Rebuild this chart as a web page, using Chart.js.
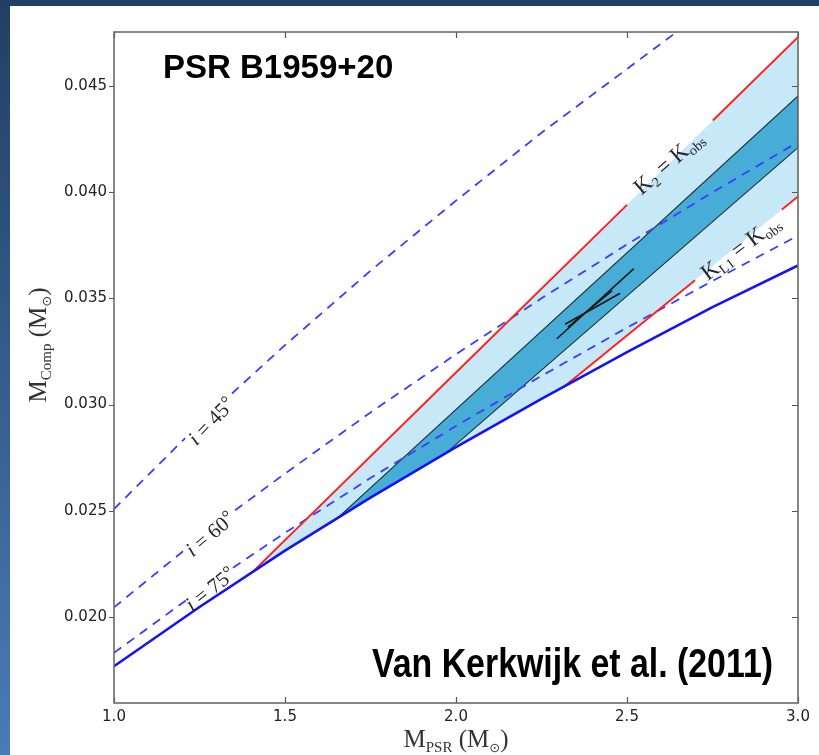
<!DOCTYPE html>
<html><head><meta charset="utf-8">
<script src="https://cdn.jsdelivr.net/npm/chart.js@4.4.0/dist/chart.umd.min.js"></script>
<style>html,body{margin:0;padding:0;background:#fff;}canvas{display:block;}</style>
</head><body>
<canvas id="c" width="819" height="755"></canvas>
<script>
// ---- axes ----
const X_TICKS = [1.0, 1.5, 2.0, 2.5, 3.0];
const Y_TICKS = [0.020, 0.025, 0.030, 0.035, 0.040, 0.045];
const X_RANGE = [1.0, 3.0];
const Y_RANGE = [0.01595, 0.04754];

// ---- inclination curves (M_PSR -> M_Comp) ----
const inc90X = [1.0, 1.25, 1.5, 1.75, 2.0, 2.25, 2.5, 2.75, 3.0];
const inc90Y = [0.01768, 0.02047, 0.02312, 0.02562, 0.02800, 0.03027, 0.03247, 0.03459, 0.03655];
const inc75X = [1.0, 1.21, 1.28, 1.348, 1.5, 1.75, 2.0, 2.25, 2.5, 2.75, 3.0];
const inc75Y = [0.01831, 0.02078, null, 0.02232, 0.02396, 0.02654, 0.02899, 0.03135, 0.03362, 0.03582, 0.03795];
const inc60X = [1.0, 1.21, 1.28, 1.354, 1.5, 1.75, 2.0, 2.25, 2.5, 2.75, 3.0];
const inc60Y = [0.02045, 0.02320, null, 0.02502, 0.02675, 0.02963, 0.03237, 0.03500, 0.03754, 0.03999, 0.04236];
const inc45X = [1.0, 1.208, 1.28, 1.345, 1.5, 1.75, 2.0, 2.25, 2.5, 2.75];
const inc45Y = [0.02508, 0.02842, null, 0.03052, 0.03280, 0.03630, 0.03960, 0.04280, 0.04580, 0.04880];

// ---- K constraints (red) ----
const k2X = [1.404, 2.0, 2.5, 2.62, 2.751, 3.0];
const k2Y = [0.0221, 0.03151, 0.0394, null, 0.04337, 0.0473];
const kL1X = [2.313, 2.5, 2.699, 2.82, 2.953, 3.0];
const kL1Y = [0.0308, 0.03325, 0.03585, null, 0.03918, 0.0398];

// ---- allowed regions ----
const lightX = [1.404, 3.0, 3.0, 2.313, 2.25, 2.0, 1.75, 1.5, 1.404];
const lightY = [0.0221, 0.0473, 0.0398, 0.0308, 0.03027, 0.0280, 0.02562, 0.02312, 0.0221];
const darkX = [1.655, 3.0, 3.0, 1.974, 1.75, 1.655];
const darkY = [0.02468, 0.04453, 0.0421, 0.02776, 0.02562, 0.02468];

// ---- central marker ----
const crossAX = [2.295, 2.52];  const crossAY = [0.0331, 0.0364];
const crossBX = [2.319, 2.48];  const crossBY = [0.03378, 0.03524];
const crossCX = [2.327, 2.456]; const crossCY = [0.03365, 0.03535];

// ---- text ----
const TITLE = 'PSR B1959+20';
const CREDIT = 'Van Kerkwijk et al. (2011)';
const INC_LABELS = [
  {deg: '45', x: 1.284, y: 0.02923, rot: -46},
  {deg: '60', x: 1.281, y: 0.02391, rot: -40},
  {deg: '75', x: 1.281, y: 0.02132, rot: -38}
];

const pts = (xs, ys) => xs.map((x, i) => ({x: x, y: ys[i]}));
const SERIF = '"Liberation Serif", "DejaVu Serif", serif';

const lineDS = (xs, ys, color, width, dash) => ({
  data: pts(xs, ys), borderColor: color, borderWidth: width,
  borderDash: dash || [], fill: false, spanGaps: false, pointRadius: 0
});

const datasets = [
  lineDS(crossAX, crossAY, '#151515', 1.5),
  lineDS(crossBX, crossBY, '#151515', 1.5),
  lineDS(crossCX, crossCY, '#151515', 1.5),
  lineDS(inc90X, inc90Y, '#1414f0', 2.6),
  lineDS(k2X, k2Y, '#ff2222', 2),
  lineDS(kL1X, kL1Y, '#ff2222', 2),
  lineDS(inc45X, inc45Y, '#3c3cff', 1.8, [9, 7]),
  lineDS(inc60X, inc60Y, '#3c3cff', 1.8, [9, 7]),
  lineDS(inc75X, inc75Y, '#3c3cff', 1.8, [9, 7]),
  {data: pts(darkX, darkY), fill: 'shape', backgroundColor: '#48add6', borderColor: '#1c2a30', borderWidth: 1.1, pointRadius: 0},
  {data: pts(lightX, lightY), fill: 'shape', backgroundColor: '#c7e8f6', borderWidth: 0, borderColor: 'rgba(0,0,0,0)', pointRadius: 0}
];

function drawParts(ctx, parts, cx, cy, angleDeg) {
  ctx.save();
  ctx.translate(cx, cy);
  ctx.rotate(angleDeg * Math.PI / 180);
  let total = 0;
  const w = parts.map(p => { ctx.font = p.font; const m = ctx.measureText(p.t).width; total += m; return m; });
  let x = -total / 2;
  ctx.textBaseline = 'alphabetic';
  ctx.textAlign = 'left';
  parts.forEach((p, i) => { ctx.font = p.font; ctx.fillText(p.t, x, p.dy); x += w[i]; });
  ctx.restore();
}

const bgPlugin = {
  id: 'bg',
  beforeDraw(chart) {
    const c = chart.ctx, W = chart.width, H = chart.height;
    c.save();
    c.fillStyle = '#ffffff'; c.fillRect(0, 0, W, H);
    c.fillStyle = '#213f63'; c.fillRect(0, 0, W, 6);
    const g = c.createLinearGradient(0, 0, 0, H);
    g.addColorStop(0, '#213f63'); g.addColorStop(1, '#4a7bb6');
    c.fillStyle = g; c.fillRect(0, 0, 10, H);
    c.restore();
  }
};

const overlayPlugin = {
  id: 'overlay',
  afterDraw(chart) {
    const c = chart.ctx, a = chart.chartArea, xs = chart.scales.x, ys = chart.scales.y;
    c.save();
    // ticks
    c.strokeStyle = '#555'; c.lineWidth = 1.2;
    c.beginPath();
    X_TICKS.forEach(v => {
      const px = Math.round(xs.getPixelForValue(v)) + 0.5;
      c.moveTo(px, a.bottom); c.lineTo(px, a.bottom - 6);
      c.moveTo(px, a.top); c.lineTo(px, a.top + 6);
    });
    Y_TICKS.forEach(v => {
      const py = Math.round(ys.getPixelForValue(v)) + 0.5;
      c.moveTo(a.left, py); c.lineTo(a.left - 5, py);
      c.moveTo(a.right, py); c.lineTo(a.right - 6, py);
    });
    c.stroke();
    // frame
    c.strokeStyle = '#6a6a6a'; c.lineWidth = 1.6;
    c.strokeRect(a.left, a.top, a.right - a.left, a.bottom - a.top);

    // inclination labels
    c.fillStyle = '#262626';
    INC_LABELS.forEach(L => {
      drawParts(c, [
        {t: 'i', font: 'italic 21px ' + SERIF, dy: 7},
        {t: ' = ', font: '21px ' + SERIF, dy: 7},
        {t: L.deg, font: '21px ' + SERIF, dy: 7},
        {t: '\u00B0', font: '19px ' + SERIF, dy: 4}
      ], xs.getPixelForValue(L.x), ys.getPixelForValue(L.y), L.rot);
    });
    // K labels
    drawParts(c, [
      {t: 'K', font: '23px ' + SERIF, dy: 8},
      {t: '2', font: '14px ' + SERIF, dy: 12},
      {t: ' = ', font: '23px ' + SERIF, dy: 8},
      {t: 'K', font: '23px ' + SERIF, dy: 8},
      {t: 'obs', font: '14px ' + SERIF, dy: 12}
    ], xs.getPixelForValue(2.62), ys.getPixelForValue(0.04142), -41);
    drawParts(c, [
      {t: 'K', font: '23px ' + SERIF, dy: 8},
      {t: 'L1', font: '14px ' + SERIF, dy: 12},
      {t: ' = ', font: '23px ' + SERIF, dy: 8},
      {t: 'K', font: '23px ' + SERIF, dy: 8},
      {t: 'obs', font: '14px ' + SERIF, dy: 12}
    ], xs.getPixelForValue(2.83), ys.getPixelForValue(0.03742), -37);

    // axis titles
    c.fillStyle = '#333';
    drawParts(c, [
      {t: 'M', font: '25px ' + SERIF, dy: 0},
      {t: 'PSR', font: '15px ' + SERIF, dy: 5},
      {t: ' (M', font: '25px ' + SERIF, dy: 0},
      {t: '\u2299', font: '13px "DejaVu Sans"', dy: 5},
      {t: ')', font: '25px ' + SERIF, dy: 0}
    ], (a.left + a.right) / 2, 747, 0);
    drawParts(c, [
      {t: 'M', font: '25px ' + SERIF, dy: 0},
      {t: 'Comp', font: '15px ' + SERIF, dy: 5},
      {t: ' (M', font: '25px ' + SERIF, dy: 0},
      {t: '\u2299', font: '13px "DejaVu Sans"', dy: 5},
      {t: ')', font: '25px ' + SERIF, dy: 0}
    ], 46, 345, -90);

    // title & credit
    c.fillStyle = '#000';
    c.textAlign = 'left'; c.textBaseline = 'alphabetic';
    c.font = 'bold 33px "Liberation Sans", Arial, sans-serif';
    c.fillText(TITLE, 163, 78);
    c.font = 'bold 40px "Liberation Sans", Arial, sans-serif';
    const cw = c.measureText(CREDIT).width;
    c.save();
    c.translate(372, 677);
    c.scale(401 / cw, 1);
    c.fillText(CREDIT, 0, 0);
    c.restore();
    c.restore();
  }
};

new Chart(document.getElementById('c'), {
  type: 'line',
  data: {datasets: datasets},
  options: {
    responsive: false,
    animation: false,
    layout: {padding: {left: 10, right: 21, top: 32, bottom: 0}},
    plugins: {legend: {display: false}, tooltip: {enabled: false}},
    elements: {point: {radius: 0}, line: {tension: 0}},
    scales: {
      x: {
        type: 'linear', min: X_RANGE[0], max: X_RANGE[1],
        grid: {display: false, drawTicks: false}, border: {display: false},
        afterBuildTicks: s => { s.ticks = X_TICKS.map(v => ({value: v})); },
        afterFit: s => { s.height = 52; },
        ticks: {padding: 5, color: '#222', font: {family: 'DejaVu Sans', size: 15},
                maxRotation: 0, autoSkip: false, callback: v => Number(v).toFixed(1)}
      },
      y: {
        type: 'linear', min: Y_RANGE[0], max: Y_RANGE[1],
        grid: {display: false, drawTicks: false}, border: {display: false},
        afterBuildTicks: s => { s.ticks = Y_TICKS.map(v => ({value: v})); },
        afterFit: s => { s.width = 104; },
        ticks: {padding: 7, color: '#222', font: {family: 'DejaVu Sans', size: 15},
                autoSkip: false, callback: v => Number(v).toFixed(3)}
      }
    }
  },
  plugins: [bgPlugin, overlayPlugin]
});
</script>
</body></html>
